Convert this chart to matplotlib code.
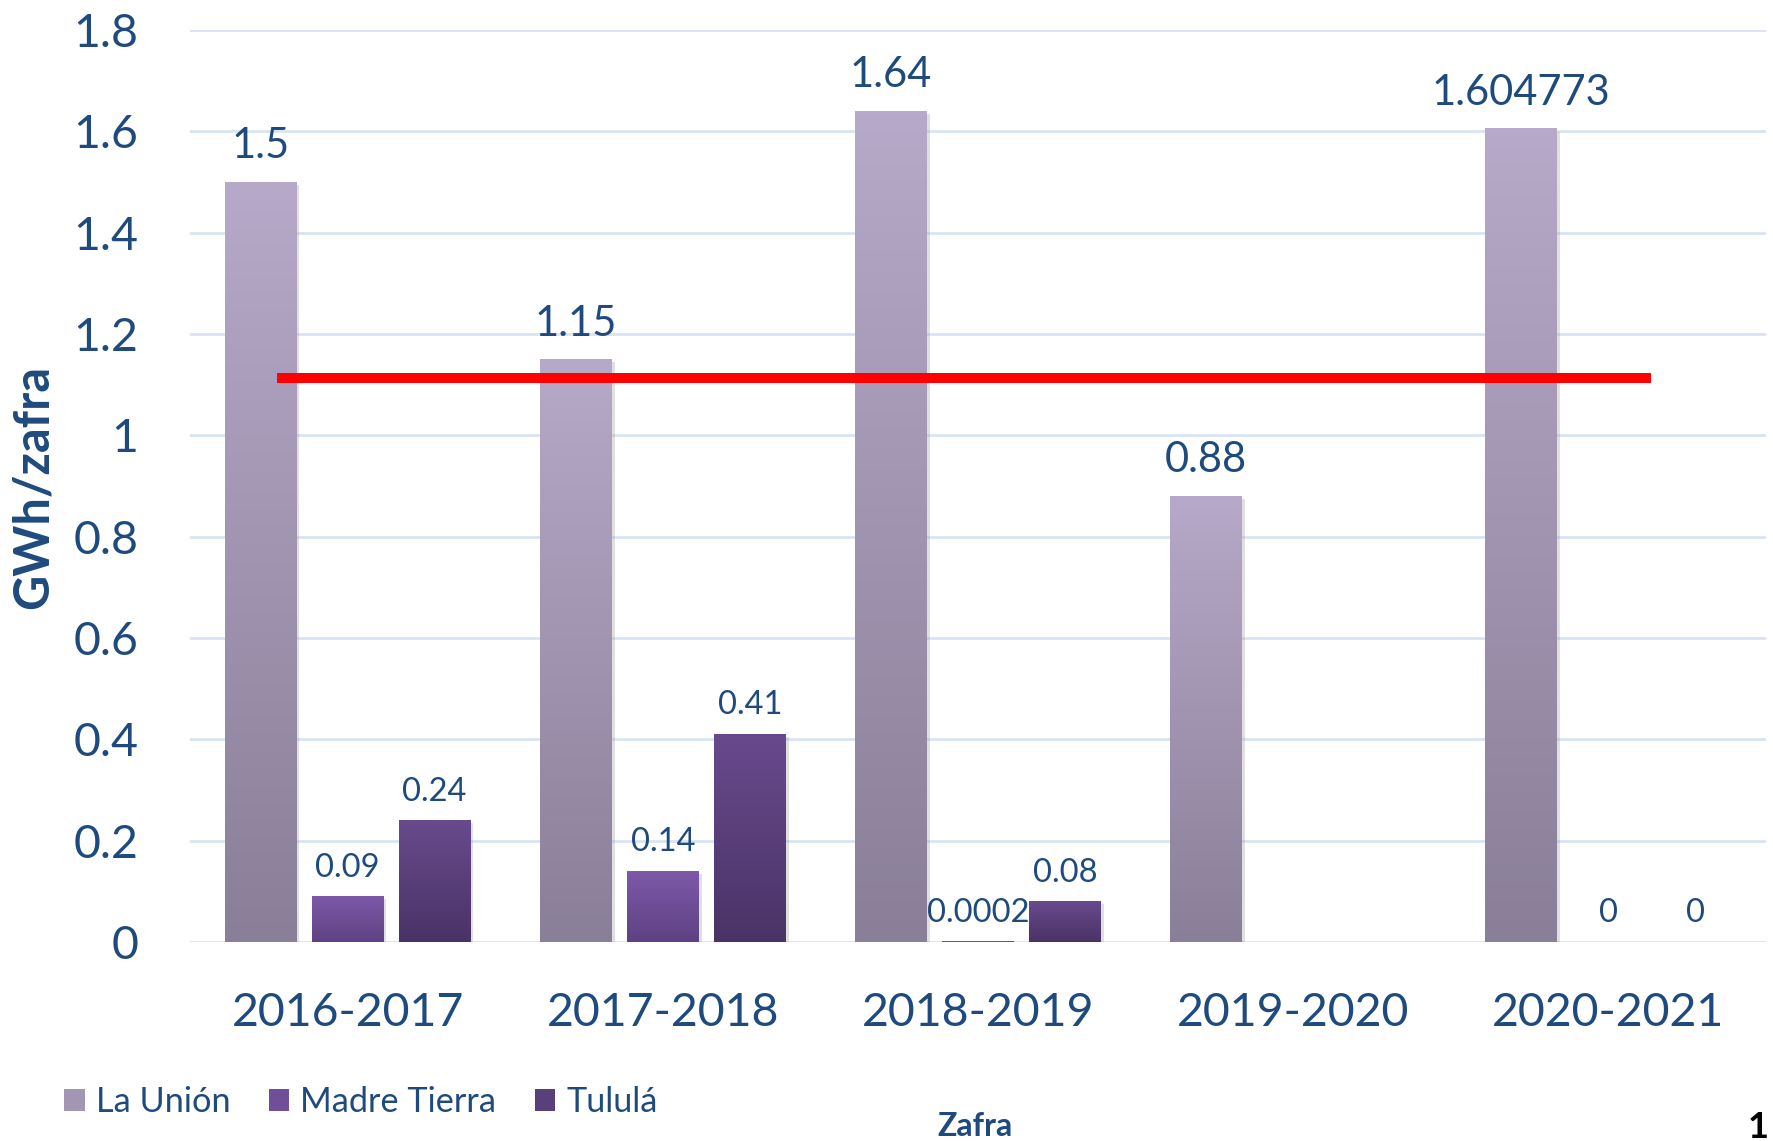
import numpy as np
import matplotlib
matplotlib.use("Agg")
import matplotlib.pyplot as plt
import matplotlib.patheffects as pe
from matplotlib.colors import LinearSegmentedColormap
from matplotlib.patches import Patch

# ---- data ----
zafras = ['2016-2017', '2017-2018', '2018-2019', '2019-2020', '2020-2021']
la_union = [1.5, 1.15, 1.64, 0.88, 1.604773]
madre_tierra = [0.09, 0.14, 0.0002, np.nan, 0]
tulula = [0.24, 0.41, 0.08, np.nan, 0]

la_union_lbl = ['1.5', '1.15', '1.64', '0.88', '1.604773']
madre_tierra_lbl = ['0.09', '0.14', '0.0002', '', '0']
tulula_lbl = ['0.24', '0.41', '0.08', '', '0']

ref_value = 1.113          # red reference line
ref_span = (-0.225, 4.136)  # x extent of that line (category units)

# ---- style ----
TXT = '#1F4A7D'
plt.rcParams['font.family'] = ['Lato', 'DejaVu Sans']

series = [
    ('La Unión', la_union, la_union_lbl, ('#8A7F98', '#B6A9C9'), 30, 12),
    ('Madre Tierra', madre_tierra, madre_tierra_lbl, ('#5E4283', '#7E58A9'), 23.5, 10),
    ('Tululá', tulula, tulula_lbl, ('#4A3366', '#684A8D'), 23.5, 10),
]

fig = plt.figure(figsize=(17.73, 11.41), dpi=100)
ax = fig.add_axes([190/1773, 1 - 942/1141, (1766 - 190)/1773, (942 - 30)/1141])

x = np.arange(len(zafras))
width = 0.228
step = 0.276

handles = []
for i, (name, vals, lbls, (c_dark, c_light), fs, pad) in enumerate(series):
    vals = np.array(vals, dtype=float)
    bars = ax.bar(x + (i - 1) * step, vals, width, color=c_dark, zorder=2,
                  path_effects=[pe.SimplePatchShadow(offset=(2, -2), shadow_rgbFace='#9a9a9a', alpha=0.3),
                                pe.Normal()])
    cmap = LinearSegmentedColormap.from_list(name, [c_dark, c_light])
    grad = np.linspace(1, 0, 256).reshape(-1, 1)
    for b in bars:
        h = b.get_height()
        if not np.isfinite(h) or h <= 0:
            continue
        x0 = b.get_x()
        ax.imshow(grad, extent=[x0, x0 + b.get_width(), 0, h], cmap=cmap,
                  aspect='auto', origin='upper', zorder=3, interpolation='bicubic')
    ax.bar_label(bars, labels=lbls, padding=pad, fontsize=fs, color=TXT)
    handles.append(Patch(facecolor=cmap(0.55), edgecolor='none', label=name))

ax.hlines(ref_value, ref_span[0], ref_span[1], color='#FF0000', linewidth=7.2, zorder=5)

ax.set_xlim(-0.5, 4.5)
ax.set_ylim(0, 1.8)
ax.set_yticks(np.arange(0, 1.81, 0.2))
ax.set_yticklabels(['0', '0.2', '0.4', '0.6', '0.8', '1', '1.2', '1.4', '1.6', '1.8'])
ax.set_xticks(x)
ax.set_xticklabels(zafras)
ax.tick_params(axis='y', length=0, pad=37, labelsize=33.5, labelcolor=TXT)
ax.tick_params(axis='x', length=0, pad=36, labelsize=33.5, labelcolor=TXT)

ax.yaxis.grid(True, color='#D9E4F2', linewidth=2)
ax.set_axisbelow(True)
for s in ax.spines.values():
    s.set_visible(False)

fig.text(33/1773, 1 - 487/1141, 'GWh/zafra', rotation=90, fontsize=35, fontweight='bold',
         color=TXT, ha='center', va='center')
fig.text(975/1773, 1 - 1127/1141, 'Zafra', fontsize=23, fontweight='bold',
         color=TXT, ha='center', va='center')
fig.text(1758/1773, 1 - 1127/1141, '1', fontsize=26, fontweight='bold',
         color='black', ha='center', va='center')

fig.legend(handles=handles, loc='center left', bbox_to_anchor=(64/1773, 1 - 1102/1141),
           ncol=3, frameon=False, fontsize=24.7, labelcolor=TXT,
           handlelength=0.6, handleheight=0.6, handletextpad=0.32,
           columnspacing=1.12, borderaxespad=0, borderpad=0)

fig.savefig('out.png', dpi=100)
